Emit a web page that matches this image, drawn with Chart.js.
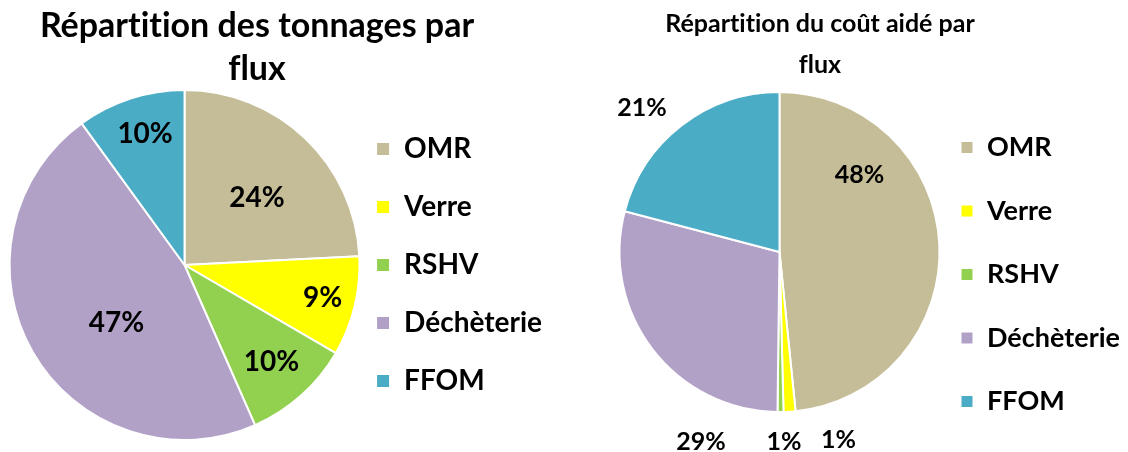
<!DOCTYPE html>
<html>
<head>
<meta charset="utf-8">
<script src="https://cdn.jsdelivr.net/npm/chart.js@4.4.1/dist/chart.umd.min.js"></script>
<style>
  body { margin: 0; width: 1128px; height: 452px; overflow: hidden; background: #fff; font-family: Lato, sans-serif; }
  .title { position: absolute; font-weight: bold; color: #000; text-align: center; white-space: nowrap; font-variant-ligatures: none; }
  #title1 { left: 0; width: 514px; top: 2px; font-size: 34px; line-height: 43px; }
  #title2 { left: 560px; width: 520px; top: 2px; font-size: 25px; line-height: 41px; }
  #wrap1 { position: absolute; left: 0; top: 0; width: 560px; height: 452px; }
  #wrap2 { position: absolute; left: 560px; top: 0; width: 580px; height: 470px; }
</style>
</head>
<body>
<div id="wrap1"><canvas id="pie1"></canvas></div>
<div id="wrap2"><canvas id="pie2"></canvas></div>
<div class="title" id="title1">Répartition des tonnages par<br>flux</div>
<div class="title" id="title2">Répartition du coût aidé par<br>flux</div>
<script>
// data
const categories = ['OMR', 'Verre', 'RSHV', 'Déchèterie', 'FFOM'];
const tonnages = [24.2, 9.2, 10.0, 46.6, 10.0];
const coutAide = [48.4, 1.2, 0.6, 28.9, 20.9];
const colors = ['#C4BD97', '#FFFF00', '#92D050', '#B2A1C7', '#4BACC6'];

// label nudges (px) from a point at 60% of the radius on each slice
const labelShift1 = [[0, 9], [36, 8], [17, 19], [23, 6], [-7, -31]];
const labelShift2 = [[-16, -72], [53, 92], [4, 94], [-2, 132], [-79, -68]];

// draws the % labels
const pctLabels = {
  id: 'pctLabels',
  afterDatasetsDraw(chart, args, opts) {
    const ctx = chart.ctx;
    const meta = chart.getDatasetMeta(0);
    const values = chart.data.datasets[0].data;
    const total = values.reduce((a, b) => a + b, 0);
    ctx.save();
    ctx.font = 'bold ' + opts.size + 'px Lato';
    ctx.fillStyle = '#000';
    ctx.textAlign = 'center';
    ctx.textBaseline = 'middle';
    meta.data.forEach((arc, i) => {
      const p = arc.getProps(['x', 'y', 'startAngle', 'endAngle', 'outerRadius'], true);
      const mid = (p.startAngle + p.endAngle) / 2;
      const r = p.outerRadius * 0.6;
      const x = p.x + Math.cos(mid) * r + opts.shift[i][0];
      const y = p.y + Math.sin(mid) * r + opts.shift[i][1];
      ctx.fillText(Math.round(values[i] / total * 100) + '%', x, y);
    });
    ctx.restore();
  }
};

function makePie(id, values, radius, pad, legendPad, fontSize, boxW, legendTitle, shift, labelSize) {
  return new Chart(document.getElementById(id), {
    type: 'pie',
    data: {
      labels: categories,
      datasets: [{
        data: values,
        backgroundColor: colors,
        borderColor: '#fff',
        borderWidth: 2
      }]
    },
    options: {
      responsive: true,
      maintainAspectRatio: false,
      animation: false,
      radius: radius,
      layout: { padding: pad },
      plugins: {
        tooltip: { enabled: false },
        legend: {
          position: 'right',
          title: legendTitle,
          labels: {
            color: '#000',
            font: { family: 'Lato', size: fontSize, weight: 'bold' },
            boxWidth: boxW,
            boxHeight: boxW,
            padding: legendPad
          }
        },
        pctLabels: { shift: shift, size: labelSize }
      }
    },
    plugins: [pctLabels]
  });
}

makePie('pie1', tonnages, 175, { left: 23, right: 8, top: 80, bottom: 2 }, 30, 28, 14,
  { display: false }, labelShift1, 28);

makePie('pie2', coutAide, 160, { left: 75, right: 10, top: 42, bottom: 8 }, 36.5, 27, 13,
  { display: true, text: ' ', font: { size: 14 }, padding: { top: 14, bottom: 14 } }, labelShift2, 25);
</script>
</body>
</html>
